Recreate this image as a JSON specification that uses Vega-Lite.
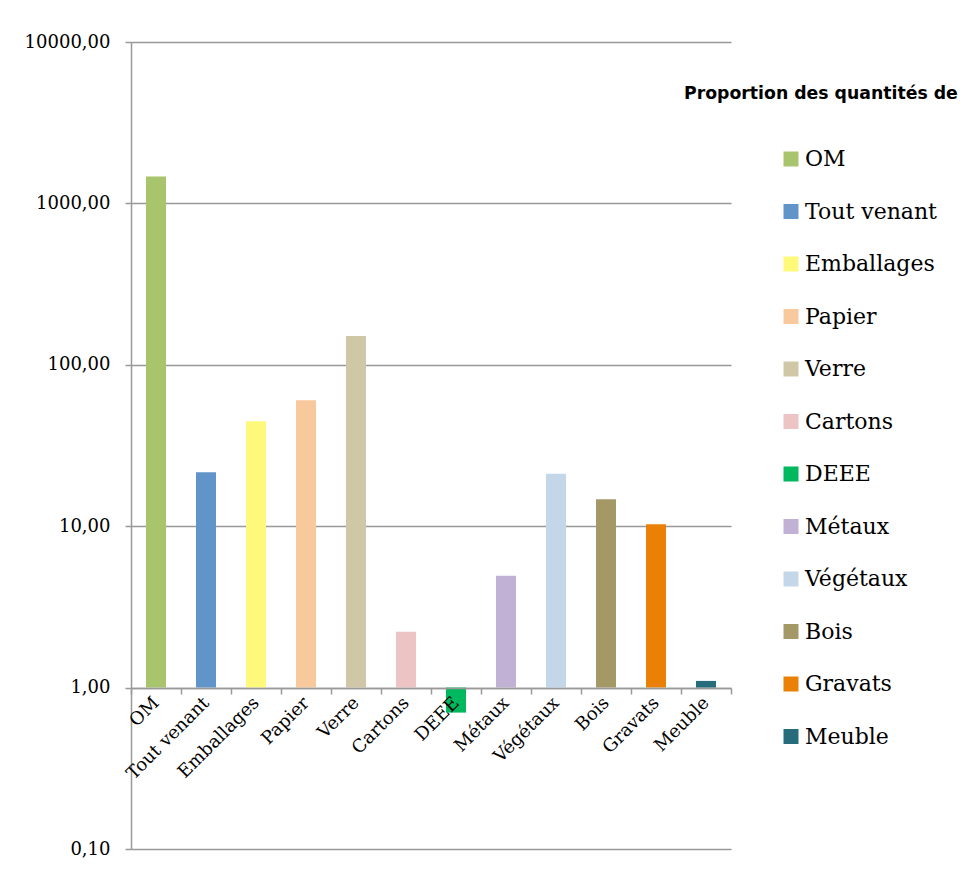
{
  "$schema": "https://vega.github.io/schema/vega-lite/v6.json",
  "width": 600,
  "height": 807,
  "autosize": {"type": "none"},
  "padding": {"left": 131, "top": 42, "right": 233, "bottom": 30},
  "background": "white",
  "title": {
    "text": "Proportion des quantités de",
    "frame": "group",
    "anchor": "start",
    "font": "DejaVu Sans",
    "fontWeight": "bold",
    "fontSize": 17.3,
    "color": "black",
    "baseline": "middle",
    "offset": 0,
    "dx": 553,
    "dy": 78
  },
  "data": {
    "values": [
      {"categorie": "OM", "valeur": 1470},
      {"categorie": "Tout venant", "valeur": 21.6},
      {"categorie": "Emballages", "valeur": 44.7},
      {"categorie": "Papier", "valeur": 60.3},
      {"categorie": "Verre", "valeur": 151},
      {"categorie": "Cartons", "valeur": 2.22},
      {"categorie": "DEEE", "valeur": 0.7},
      {"categorie": "Métaux", "valeur": 4.94},
      {"categorie": "Végétaux", "valeur": 21.1},
      {"categorie": "Bois", "valeur": 14.7},
      {"categorie": "Gravats", "valeur": 10.3},
      {"categorie": "Meuble", "valeur": 1.1}
    ]
  },
  "mark": {"type": "bar", "width": {"band": 0.4}},
  "encoding": {
    "x": {
      "field": "categorie",
      "type": "nominal",
      "sort": null,
      "scale": {"paddingInner": 0, "paddingOuter": 0},
      "axis": {
        "title": null,
        "offset": -161,
        "zindex": 1,
        "grid": false,
        "tickBand": "extent",
        "domainColor": "#999999",
        "domainWidth": 1.5,
        "tickColor": "#999999",
        "tickWidth": 1.5,
        "tickSize": 6,
        "labelAngle": -45,
        "labelAlign": "right",
        "labelBaseline": "middle",
        "labelFont": "DejaVu Serif",
        "labelFontSize": 18,
        "labelColor": "black",
        "labelPadding": 6,
        "labelLimit": 300
      }
    },
    "y": {
      "field": "valeur",
      "type": "quantitative",
      "scale": {"type": "log", "domain": [0.1, 10000], "nice": false},
      "axis": {
        "title": null,
        "values": [0.1, 1, 10, 100, 1000, 10000],
        "labelExpr": "replace(format(datum.value, '.2f'), '.', ',')",
        "grid": true,
        "gridColor": "#999999",
        "gridWidth": 1.5,
        "domainColor": "#999999",
        "domainWidth": 1.5,
        "tickColor": "#999999",
        "tickWidth": 1.5,
        "tickSize": 6,
        "labelFont": "DejaVu Serif",
        "labelFontSize": 18,
        "labelColor": "black",
        "labelPadding": 15
      }
    },
    "y2": {"datum": 1},
    "color": {
      "field": "categorie",
      "type": "nominal",
      "sort": null,
      "scale": {
        "domain": ["OM", "Tout venant", "Emballages", "Papier", "Verre", "Cartons", "DEEE", "Métaux", "Végétaux", "Bois", "Gravats", "Meuble"],
        "range": ["#A8C46C", "#6194C8", "#FEF97A", "#F9C99E", "#D0C7A6", "#EBC4C3", "#00B85E", "#C1B1D4", "#C4D7E8", "#A39866", "#EB8007", "#276C7A"]
      },
      "legend": {
        "orient": "none",
        "legendX": 649,
        "legendY": 106,
        "padding": 0,
        "title": null,
        "symbolType": "square",
        "symbolSize": 225,
        "symbolStrokeWidth": 0,
        "labelFont": "DejaVu Serif",
        "labelFontSize": 22,
        "labelColor": "black",
        "labelOffset": 3,
        "rowPadding": 30.5,
        "labelLimit": 300
      }
    }
  },
  "config": {"view": {"stroke": null}}
}
